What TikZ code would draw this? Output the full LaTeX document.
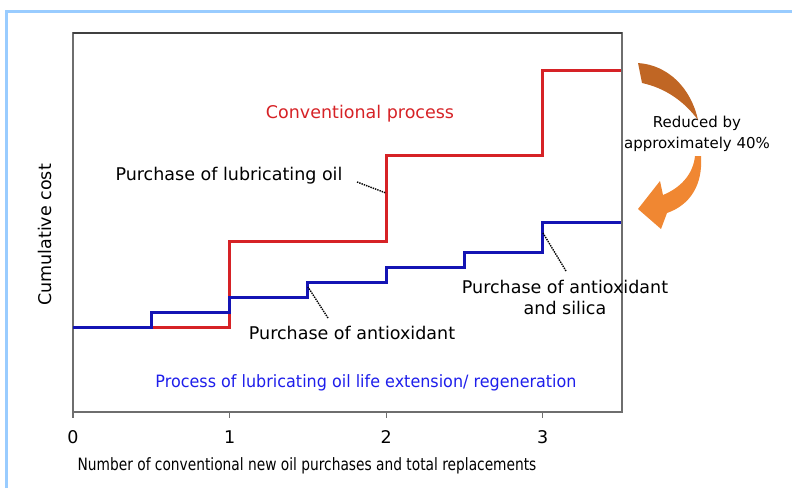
\documentclass[tikz,border=0pt]{standalone}
\usepackage{fontspec}
\setmainfont{DejaVu Sans}
\usepackage{tikz}
\usepackage{xcolor}
\usetikzlibrary{positioning}
\definecolor{convred}{RGB}{214,34,38}
\definecolor{regblue}{RGB}{20,20,180}
\definecolor{textblue}{RGB}{30,30,235}
\definecolor{framegray}{RGB}{110,110,110}
\definecolor{edgeblue}{RGB}{153,204,255}
\definecolor{arrowbrown}{RGB}{192,102,36}
\definecolor{arrowlight}{RGB}{240,135,50}
\tikzstyle{label} = [inner sep=0pt, outer sep=0pt, align=center,
    font=\fontsize{17.5}{21}\selectfont]
\tikzstyle{small} = [inner sep=0pt, align=center,
    font=\fontsize{15}{21}\selectfont]
\tikzstyle{leader} = [densely dotted, line width=1.4pt]
\tikzstyle{curve} = [line width=3pt, line join=miter]

\begin{document}
\begin{tikzpicture}[x=1pt, y=-1pt]
	\useasboundingbox (0,0) rectangle (792,488);
	% page edge
	\draw [edgeblue, line width=3pt] (6,488) -- (6,11) -- (792,11);
	% plot frame
	\draw [framegray, line width=1.3pt] (73,33) rectangle (622,412);
	\draw [black!75, line width=1.8pt] (73,33) -- (622,33);
	\foreach \k/\lab in {0/0, 1/1, 2/2, 3/3} {
		\draw [framegray, line width=1.3pt] (73+156.6*\k,412) -- ++(0,6);
		\node [label] (tick\k) at (73+156.6*\k,437) {\lab};
	}
	% cost curves
	\draw [curve, convred] (73,327) -- (229.6,327) -- (229.6,241)
		-- (386.2,241) -- (386.2,155) -- (542.8,155) -- (542.8,70)
		-- (621,70);
	\draw [curve, regblue] (73,327) -- (151.3,327) -- (151.3,312)
		-- (229.6,312) -- (229.6,297) -- (307.9,297) -- (307.9,282)
		-- (386.2,282) -- (386.2,267) -- (464.5,267) -- (464.5,252)
		-- (542.8,252) -- (542.8,222) -- (621,222);
	% labels
	\node [label, text=convred] (Conventional) at (360,114)
		{Conventional process};
	\node [label, text=textblue, font=\fontsize{17}{21}\selectfont]
		(Regeneration) at (366,383) {\scalebox{0.94}[1]{Process of
		lubricating oil life extension/ regeneration}};
	\node [label] (Oil) at (229,176) {Purchase of lubricating oil};
	\node [label] (Antioxidant) at (352,333) {Purchase of antioxidant};
	\node [label] (Silica) at (565,297)
		{Purchase of antioxidant\\and silica};
	\node [label, font=\fontsize{17}{21}\selectfont] (Xlabel) at (307,466)
		{\scalebox{0.81}[1]{Number of conventional new oil purchases
		and total replacements}};
	\node [label, rotate=90] (Ylabel) at (45,235) {Cumulative cost};
	\node [small] (Reduced) at (697,134)
		{Reduced by\\approximately 40\%};
	% leaders
	\coordinate (Oil_step) at (386,193);
	\coordinate (Antioxidant_step) at (308,287);
	\coordinate (Silica_step) at (543,233);
	\coordinate (Oil_end) at (357,182);
	\coordinate (Antioxidant_end) at (328,318);
	\coordinate (Silica_end) at (566,271);
	\draw [leader] (Oil_end) -- (Oil_step);
	\draw [leader] (Antioxidant_end) -- (Antioxidant_step);
	\draw [leader] (Silica_end) -- (Silica_step);
	% reduction arrow
	\fill [arrowbrown] (638,63) .. controls (668,65) and (691,88) .. (698,120)
		.. controls (684,101) and (665,88) .. (642,83) -- cycle;
	\fill [arrowlight] (695,156) -- (701,156)
		.. controls (703,185) and (690,205) .. (667,213)
		-- (661,229) -- (638,209) -- (660,181) -- (663,195)
		.. controls (680,188) and (693,175) .. (695,156) -- cycle;
\end{tikzpicture}
\end{document}
